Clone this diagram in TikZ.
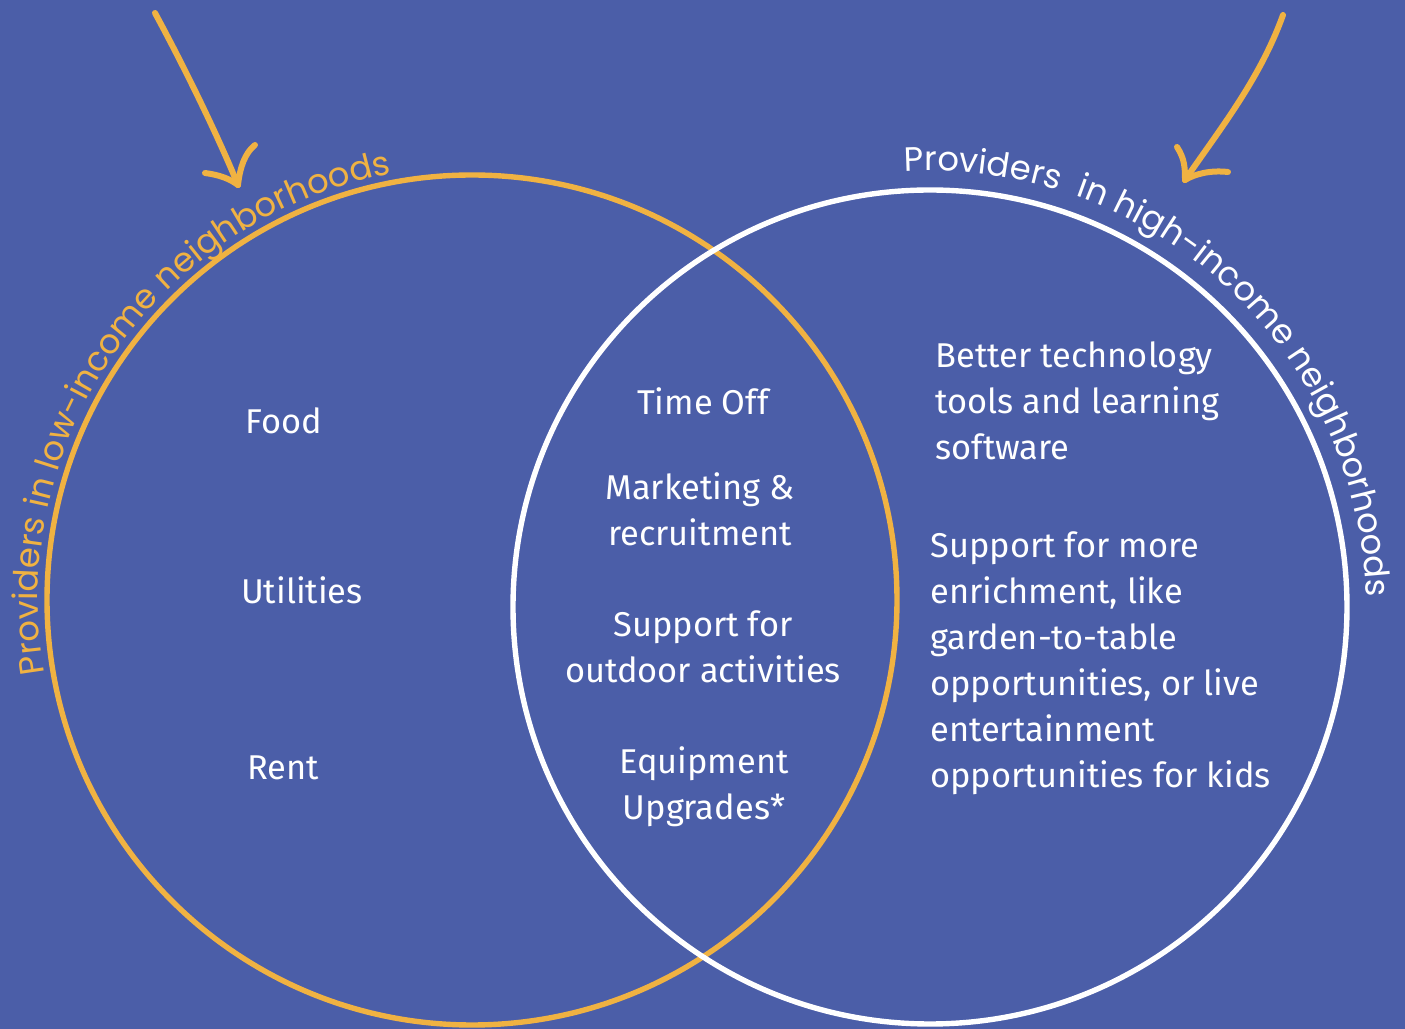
\documentclass[tikz,border=0pt]{standalone}
\usepackage{fontspec}
\setmainfont{Fira Sans}
\newfontfamily\curvefont{Poppins}
\usetikzlibrary{decorations.text}
\definecolor{bgblue}{RGB}{75,94,168}
\definecolor{gold}{RGB}{240,178,66}
\begin{document}
\begin{tikzpicture}[x=0.5pt,y=0.5pt,
  lbl/.style={text=white, inner sep=0pt, font=\fontsize{17.2}{23}\selectfont},
  ring/.style={line width=2.7pt},
  brush/.style={gold, line width=3pt, line cap=round, line join=round}]
\fill[bgblue] (0,0) rectangle (1405,1029);
\useasboundingbox (0,0) rectangle (1405,1029);
% circles
\draw[ring, gold] (472,429) circle[radius=425];
\draw[ring, white] (930,422) circle[radius=417];
% curved labels
\path[decorate, decoration={text along path, text align=center, text color=gold,
  text={|\curvefont\fontsize{16.9}{18}\selectfont|Providers in low-income neighborhoods}}]
  (472,429) ++(195:434) arc[start angle=195, end angle=95.4, radius=434];
\path[decorate, decoration={text along path, text align=center, text color=white,
  text={|\curvefont\fontsize{16.9}{18}\selectfont|Providers{\ } in high-income neighborhoods}}]
  (930,422) ++(100:436) arc[start angle=100, end angle=-5.4, radius=436];
% arrows
\coordinate (la1) at (155,1016);
\coordinate (la2) at (238,844);
\coordinate (lb1) at (205,856);
\coordinate (lb2) at (255,884);
\draw[brush] (la1) .. controls (180,970) and (215,900) .. (la2);
\draw[brush] (lb1) .. controls (220,854) and (230,850) .. (la2);
\draw[brush] (lb2) .. controls (245,876) and (240,862) .. (la2);
\coordinate (ra1) at (1283,1014);
\coordinate (ra2) at (1185,849);
\coordinate (rb1) at (1177,882);
\coordinate (rb2) at (1228,857);
\draw[brush] (ra1) .. controls (1260,950) and (1220,900) .. (ra2);
\draw[brush] (rb1) .. controls (1185,870) and (1185,860) .. (ra2);
\draw[brush] (rb2) .. controls (1210,859) and (1195,855) .. (ra2);
% texts
\node[lbl] (food) at (284,608) {Food};
\node[lbl] (util) at (302,439) {Utilities};
\node[lbl] (rent) at (283,261) {Rent};
\node[lbl] (timeoff) at (703,628) {Time Off};
\node[lbl, align=center] (market) at (700,520) {Marketing \&\\recruitment};
\node[lbl, align=center] (outdoor) at (703,382) {Support for\\outdoor activities};
\node[lbl, align=center] (equip) at (704,242) {Equipment\\Upgrades*};
\node[lbl, align=left, anchor=west] (tech) at (935,628) {Better technology\\tools and learning\\software};
\node[lbl, align=left, anchor=west] (enrich) at (930,366) {Support for more\\enrichment, like\\garden-to-table\\opportunities, or live\\entertainment\\opportunities for kids};
\end{tikzpicture}
\end{document}
